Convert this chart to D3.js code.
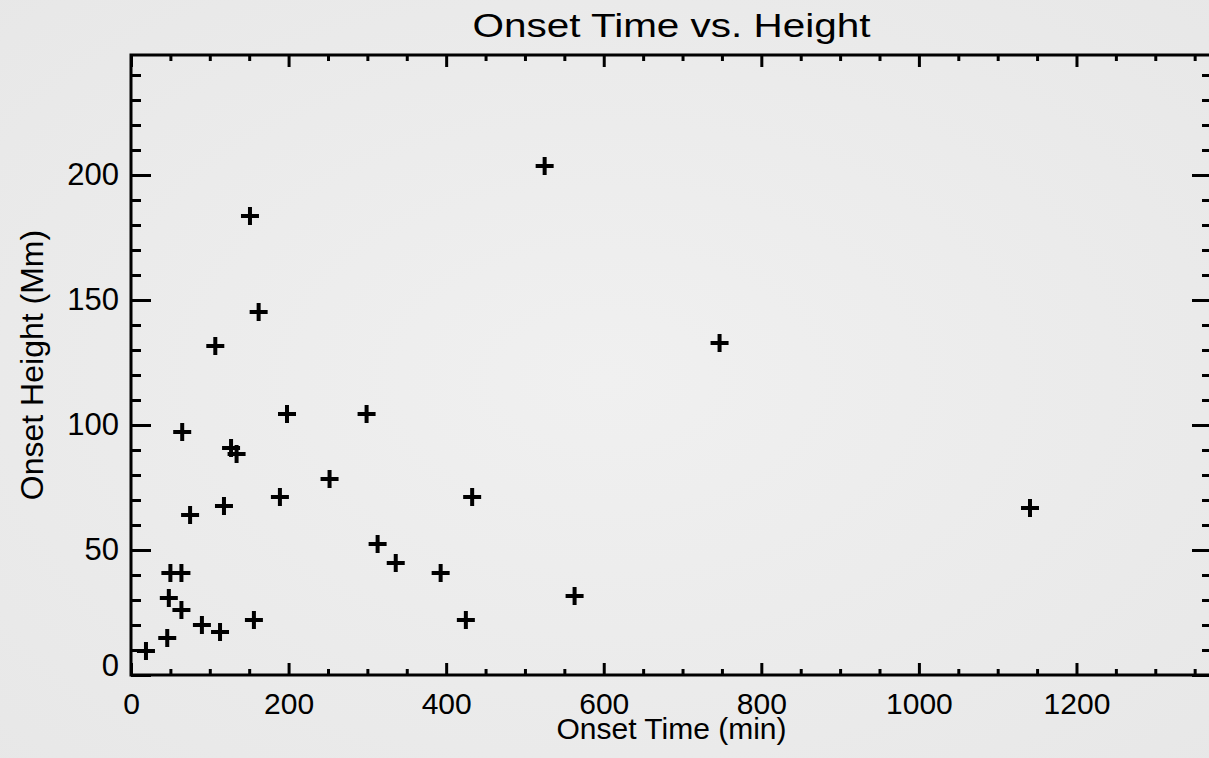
<!DOCTYPE html>
<html>
<head>
<meta charset="utf-8">
<script src="https://cdn.jsdelivr.net/npm/d3@7"></script>
<style>
  body { margin: 0; background: #ececec; }
  text { font-family: "Liberation Sans", Arial, Helvetica, sans-serif; fill: #000; }
</style>
</head>
<body>
<div id="chart"></div>
<script>
// data
var onsetTime   = [19, 46, 48, 50, 64, 64, 65, 75, 90, 113, 118, 107, 127, 134, 151, 156, 162, 189, 198, 252, 299, 313, 336, 393, 425, 433, 525, 563, 747, 1141];
var onsetHeight = [9.6, 14.8, 30.8, 40.8, 40.8, 26, 97.2, 64, 20, 17.2, 67.6, 131.6, 90.8, 88.4, 183.6, 22, 145.2, 71.2, 104.4, 78.4, 104.4, 52.4, 44.8, 40.8, 22, 71.2, 203.6, 31.6, 132.8, 66.8];
var xMajor = [0, 200, 400, 600, 800, 1000, 1200];
var yMajor = [0, 50, 100, 150, 200];

var width = 1209, height = 758;

var svg = d3.select('#chart').append('svg')
    .attr('width', width)
    .attr('height', height);

// background, light grey with slightly darker edges
var defs = svg.append('defs');
var grad = defs.append('radialGradient').attr('id', 'bg')
    .attr('cx', '50%').attr('cy', '50%').attr('r', '75%');
grad.append('stop').attr('offset', '0%').attr('stop-color', '#f0f0f0');
grad.append('stop').attr('offset', '100%').attr('stop-color', '#e7e7e7');
svg.append('rect').attr('width', width).attr('height', height).attr('fill', 'url(#bg)');

var x = d3.scaleLinear().domain([0, 1372]).range([131, 1212]);
var y = d3.scaleLinear().domain([0, 248]).range([675, 55]);

var xMinor = d3.range(0, 1372, 50).filter(function(d) { return d % 200 !== 0; });
var yMinor = d3.range(0, 248, 10).filter(function(d) { return d % 50 !== 0; });

function styleAxis(g) {
    g.select('.domain').remove();
    g.selectAll('.tick line').attr('stroke', '#000').attr('stroke-width', 3);
}

// bottom axis
svg.append('g').attr('transform', 'translate(0,' + y(0) + ')')
    .call(d3.axisBottom(x).tickValues(xMajor).tickSize(-12).tickPadding(18).tickFormat(d3.format('d')))
    .call(styleAxis)
    .selectAll('text').style('font-size', '30px').attr('font-family', null);
svg.append('g').attr('transform', 'translate(0,' + y(0) + ')')
    .call(d3.axisBottom(x).tickValues(xMinor).tickSize(-6).tickFormat(''))
    .call(styleAxis);

// top axis
svg.append('g').attr('transform', 'translate(0,' + y(248) + ')')
    .call(d3.axisTop(x).tickValues(xMajor).tickSize(-12).tickFormat(''))
    .call(styleAxis);
svg.append('g').attr('transform', 'translate(0,' + y(248) + ')')
    .call(d3.axisTop(x).tickValues(xMinor).tickSize(-6).tickFormat(''))
    .call(styleAxis);

// left axis
var yAxisG = svg.append('g').attr('transform', 'translate(' + x(0) + ',0)')
    .call(d3.axisLeft(y).tickValues(yMajor).tickSize(-20).tickPadding(12).tickFormat(d3.format('d')))
    .call(styleAxis);
yAxisG.selectAll('text').style('font-size', '31px').attr('font-family', null);
yAxisG.selectAll('.tick').filter(function(d) { return d === 0; })
    .select('text').attr('y', -9);
svg.append('g').attr('transform', 'translate(' + x(0) + ',0)')
    .call(d3.axisLeft(y).tickValues(yMinor).tickSize(-10).tickFormat(''))
    .call(styleAxis);

// right axis
svg.append('g').attr('transform', 'translate(' + x(1372) + ',0)')
    .call(d3.axisRight(y).tickValues(yMajor).tickSize(-20).tickFormat(''))
    .call(styleAxis);
svg.append('g').attr('transform', 'translate(' + x(1372) + ',0)')
    .call(d3.axisRight(y).tickValues(yMinor).tickSize(-10).tickFormat(''))
    .call(styleAxis);

// frame
svg.append('rect')
    .attr('x', x(0)).attr('y', y(248))
    .attr('width', x(1372) - x(0)).attr('height', y(0) - y(248))
    .attr('fill', 'none').attr('stroke', '#000').attr('stroke-width', 3);

// plus markers
svg.append('g').selectAll('path')
    .data(onsetTime.map(function(t, i) { return [t, onsetHeight[i]]; }))
    .enter().append('path')
    .attr('d', function(d) {
        var cx = x(d[0]), cy = y(d[1]);
        return 'M' + (cx - 9) + ',' + cy + 'H' + (cx + 9) + 'M' + cx + ',' + (cy - 9) + 'V' + (cy + 9);
    })
    .attr('stroke', '#000')
    .attr('stroke-width', 4)
    .attr('fill', 'none');

// titles
svg.append('text')
    .attr('x', (x(0) + x(1372)) / 2)
    .attr('y', 37)
    .attr('text-anchor', 'middle')
    .style('font-size', '34px')
    .attr('textLength', 398)
    .attr('lengthAdjust', 'spacingAndGlyphs')
    .text('Onset Time vs. Height');

svg.append('text')
    .attr('x', (x(0) + x(1372)) / 2)
    .attr('y', 739)
    .attr('text-anchor', 'middle')
    .style('font-size', '30px')
    .text('Onset Time (min)');

svg.append('text')
    .attr('transform', 'translate(43,' + ((y(0) + y(248)) / 2) + ') rotate(-90)')
    .attr('text-anchor', 'middle')
    .style('font-size', '32px')
    .text('Onset Height (Mm)');
</script>
</body>
</html>
